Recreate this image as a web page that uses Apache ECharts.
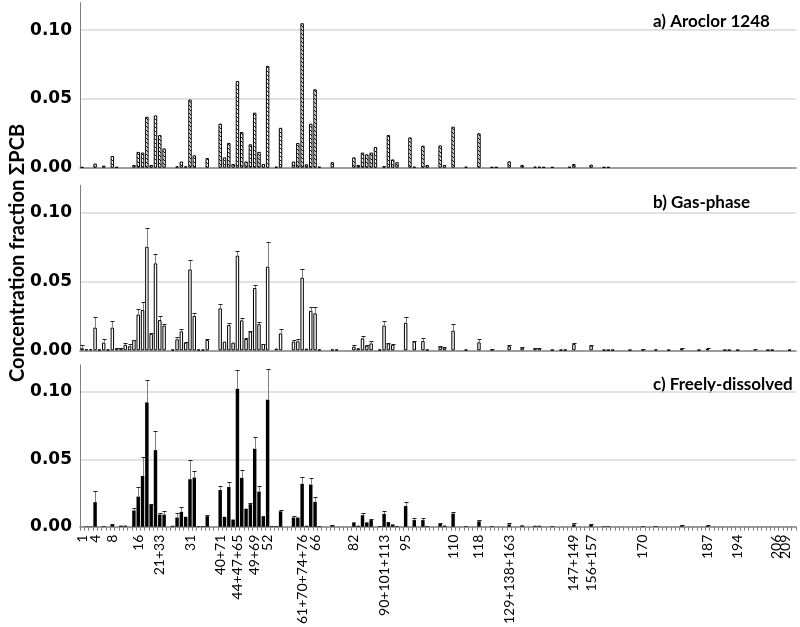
<!DOCTYPE html>
<html><head><meta charset="utf-8">
<script src="https://cdn.jsdelivr.net/npm/echarts@6/dist/echarts.min.js"></script>
<style>html,body{margin:0;padding:0;background:#fff}#chart{width:800px;height:627px}</style>
</head><body><div id="chart"></div>
<script>
// Congener peaks along the x axis (only the labelled ones carry text)
const categories = [
  '1','','','4','','','','8','','',
  '','','','16','','','','','21+33','',
  '','','','','','31','','','','',
  '','','40+71','','','','44+47+65','','','',
  '49+69','','','52','','','','','','',
  '','61+70+74+76','','','66','','','','','',
  '','','','82','','','','','','',
  '90+101+113','','','','','95','','','','',
  '','','','','','','110','','','',
  '','','118','','','','','','','129+138+163',
  '','','','','','','','','','',
  '','','','','147+149','','','','156+157','',
  '','','','','','','','','','',
  '170','','','','','','','','','',
  '','','','','','187','','','','',
  '','','194','','','','','','','',
  '','206','','209','',''
];

const panelTitles = ['a) Aroclor 1248', 'b) Gas-phase', 'c) Freely-dissolved'];
const yAxisTitle = 'Concentration fraction \u03A3PCB';

const aroclor = [
  0.0005,0,0,0.003,0,0.0015,0,0.0085,0.0005,0,
  0,0,0.002,0.0115,0.011,0.037,0.002,0.038,0.0237,0.014,
  0,0,0.001,0.0045,0.001,0.0495,0.009,0,0,0.007,
  0,0,0.032,0.0075,0.018,0.0027,0.063,0.026,0.0045,0.017,
  0.040,0.0115,0.0027,0.074,0,0.0007,0.029,0,0,0.0045,
  0.018,0.105,0.0025,0.032,0.057,0.0007,0,0,0.004,0,
  0,0,0,0.0075,0.002,0.011,0.0097,0.011,0.015,0,
  0.0012,0.0237,0.006,0.004,0,0,0.022,0.0007,0,0.016,
  0.002,0,0,0.0162,0.002,0,0.0298,0,0,0.0007,
  0,0,0.025,0,0,0.0005,0.0005,0,0,0.0046,
  0,0,0.002,0,0,0.0007,0.0007,0.0005,0,0.0005,
  0,0,0,0.0007,0.0027,0,0,0,0.0022,0,
  0,0.0005,0.0005,0,0,0,0,0,0,0,
  0,0,0,0,0,0,0,0,0,0,
  0,0,0,0,0,0,0,0,0,0,
  0,0,0,0,0,0,0,0,0,0,
  0,0,0,0,0,0
];

const gasPhase = [
  0.0015,0.0007,0.0007,0.0165,0.0005,0.0056,0.0005,0.0165,0.0015,0.0015,
  0.004,0.003,0.0075,0.026,0.0293,0.0753,0.012,0.0632,0.022,0.018,
  0,0.0005,0.008,0.0138,0.0056,0.0588,0.025,0.0005,0.0005,0.0075,
  0,0,0.0305,0.0063,0.0184,0.0056,0.0688,0.0218,0.0082,0.0136,
  0.0453,0.019,0.0046,0.0608,0,0.0012,0.0123,0,0,0.0063,
  0.0065,0.0528,0.0012,0.0288,0.0269,0.0005,0,0,0.0005,0.0005,
  0,0,0,0.0027,0.0015,0.0087,0.0034,0.005,0,0.0005,
  0.018,0.005,0.004,0,0,0.02,0,0.0063,0,0.0068,
  0.0005,0,0,0.0027,0.002,0,0.0143,0,0,0.0004,
  0,0,0.0058,0,0,0.0005,0,0,0,0.003,
  0,0,0.002,0,0,0.0015,0.0015,0,0,0.0004,
  0,0.0004,0.0004,0,0.0045,0,0,0,0.0034,0,
  0,0.0003,0.0003,0.0003,0,0,0,0.0003,0,0,
  0.0005,0,0,0.0005,0,0,0.0003,0,0,0.0012,
  0,0,0,0.0003,0,0.001,0,0,0,0.0003,
  0.0003,0,0.0003,0,0,0,0.0008,0,0,0.0003,
  0.0003,0,0,0,0.0003,0
];

const gasPhaseErr = [
  0.002,0,0,0.0075,0,0.0025,0,0.0045,0.0005,0.0003,
  0.001,0.0017,0.0002,0.004,0.0055,0.0133,0.0005,0.0068,0.003,0.001,
  0,0,0.0015,0.002,0.0005,0.0068,0.0024,0,0,0.0005,
  0,0,0.003,0,0.0012,0,0.0034,0.002,0.0005,0.0005,
  0.002,0.0017,0.0003,0.018,0,0,0.003,0,0,0.001,
  0.0015,0.0065,0,0.0025,0.0044,0,0,0,0,0,
  0,0,0,0.001,0,0.0017,0.0005,0.002,0,0,
  0.0036,0.0003,0.0005,0,0,0.0039,0,0.0005,0,0.002,
  0,0,0,0.0007,0.0003,0,0.0048,0,0,0,
  0,0,0.0027,0,0,0.0005,0,0,0,0.001,
  0,0,0.0003,0,0,0.0003,0.0003,0,0,0,
  0,0,0,0,0.0008,0,0,0,0.0003,0,
  0,0,0,0,0,0,0,0,0,0,
  0.0005,0,0,0,0,0,0,0,0,0.0005,
  0,0,0,0,0,0.0005,0,0,0,0,
  0,0,0,0,0,0,0.0004,0,0,0,
  0,0,0,0,0,0
];

const dissolved = [
  0,0.0003,0.0003,0.0182,0,0.0005,0,0.0017,0,0.0008,
  0.0008,0,0.012,0.0223,0.0376,0.0922,0.0163,0.0568,0.009,0.009,
  0,0.0007,0.0068,0.011,0.0073,0.0352,0.0364,0.0005,0.0005,0.0078,
  0,0,0.0272,0.0073,0.0294,0.0053,0.1024,0.0362,0.0133,0.0167,
  0.0578,0.026,0.0078,0.0942,0.0005,0.0005,0.0114,0,0,0.0068,
  0.0068,0.0318,0.0007,0.0313,0.0184,0.0005,0,0,0.001,0,
  0,0,0,0.0032,0.0007,0.0085,0.0032,0.0049,0,0.0005,
  0.0095,0.0034,0.0017,0.0005,0,0.0153,0,0.0049,0,0.0049,
  0.0005,0,0,0.002,0.0008,0,0.0097,0,0,0.0005,
  0,0,0.004,0,0,0.0005,0,0,0,0.0017,
  0,0,0.001,0,0,0.0007,0.0007,0,0,0.0005,
  0,0,0,0,0.0017,0,0,0,0.0015,0,
  0,0.0004,0.0004,0,0,0,0,0,0,0,
  0.0005,0,0,0.0005,0,0,0,0,0,0.0007,
  0,0,0,0,0,0.0007,0,0,0,0,
  0,0,0,0,0,0,0,0,0,0,
  0,0,0,0,0,0
];

const dissolvedErr = [
  0,0,0,0.0085,0,0,0,0.0005,0,0,
  0,0,0.0017,0.0075,0.014,0.0167,0.0007,0.0143,0.0015,0.0024,
  0,0,0.003,0.0036,0,0.014,0.005,0,0,0.0007,
  0,0,0.003,0,0.004,0,0.0138,0.0056,0,0.001,
  0.009,0.0044,0,0.0226,0,0,0.0007,0,0,0.001,
  0,0.005,0,0.005,0.0034,0,0,0,0.0005,0,
  0,0,0,0,0,0.002,0,0.0007,0,0,
  0.0018,0,0,0,0,0.003,0,0.0012,0,0.0012,
  0,0,0,0.0005,0,0,0.0012,0,0,0,
  0,0,0.0007,0,0,0,0,0,0,0.0007,
  0,0,0,0,0,0,0,0,0,0,
  0,0,0,0,0.0007,0,0,0,0.0005,0,
  0,0,0,0,0,0,0,0,0,0,
  0,0,0,0,0,0,0,0,0,0.0003,
  0,0,0,0,0,0.0003,0,0,0,0,
  0,0,0,0,0,0,0,0,0,0,
  0,0,0,0,0,0
];

// ---------- drawing ----------
const hatchCanvas = document.createElement('canvas');
hatchCanvas.width = 4; hatchCanvas.height = 4;
(function () {
  const c = hatchCanvas.getContext('2d');
  c.fillStyle = '#fff'; c.fillRect(0, 0, 4, 4);
  c.strokeStyle = '#000'; c.lineWidth = 0.9;
  c.beginPath();
  c.moveTo(0, 0); c.lineTo(4, 4);
  c.moveTo(-2, 2); c.lineTo(2, 6);
  c.moveTo(2, -2); c.lineTo(6, 2);
  c.stroke();
})();
const hatch = { image: hatchCanvas, repeat: 'repeat' };

const toBar = arr => arr.map(v => (v > 0 ? v : '-'));
const errData = (vals, errs) =>
  vals.map((v, i) => (errs[i] > 0 ? [i, v, v + errs[i]] : null)).filter(d => d);

function renderErr(params, api) {
  const i = api.value(0);
  const lo = api.coord([i, api.value(1)]);
  const hi = api.coord([i, api.value(2)]);
  const w = api.size([1, 0])[0] * 0.95;
  const x = Math.round(hi[0]) + 0.5;
  const yh = Math.round(hi[1]) + 0.5;
  return {
    type: 'group',
    children: [
      { type: 'line', shape: { x1: x, y1: lo[1], x2: x, y2: yh },
        style: { stroke: '#808080', lineWidth: 1 } },
      { type: 'line', shape: { x1: x - w / 2, y1: yh, x2: x + w / 2, y2: yh },
        style: { stroke: '#222', lineWidth: 1 } }
    ]
  };
}

const gridTops = [2.6, 185.2, 364.9];
const gridH = 165.1;
const axisGray = '#7f7f7f';

const option = {
  animation: false,
  backgroundColor: '#fff',
  grid: gridTops.map(t => ({ left: 80, right: 4, top: t, height: gridH })),
  xAxis: [0, 1, 2].map(i => ({
    type: 'category', gridIndex: i, data: categories, boundaryGap: true,
    axisLine: { show: true, lineStyle: { color: axisGray, width: 1.5 } },
    axisTick: i === 2
      ? { show: true, interval: 0, length: 4, lineStyle: { color: axisGray, width: 1 } }
      : { show: false },
    axisLabel: i === 2
      ? { show: true, interval: 0, rotate: 90, fontSize: 14, fontFamily: 'Lato',
          color: '#000', margin: 8 }
      : { show: false },
    splitLine: { show: false }
  })),
  yAxis: [0, 1, 2].map(i => ({
    type: 'value', gridIndex: i, min: 0, max: 0.12, interval: 0.05,
    axisLine: { show: true, lineStyle: { color: axisGray, width: 1 } },
    axisTick: { show: false },
    axisLabel: { showMaxLabel: false, formatter: v => v.toFixed(2),
      fontFamily: 'DejaVu Sans', fontWeight: 'bold', fontSize: 17, color: '#000', margin: 8 },
    splitLine: { show: true, showMinLine: false, showMaxLine: false,
      lineStyle: { color: '#d9d9d9', width: 1.5 } }
  })),
  series: [
    { type: 'bar', xAxisIndex: 0, yAxisIndex: 0, data: toBar(aroclor), barWidth: '80%',
      itemStyle: { color: hatch, borderColor: '#000', borderWidth: 1 } },
    { type: 'bar', xAxisIndex: 1, yAxisIndex: 1, data: toBar(gasPhase), barWidth: '80%',
      itemStyle: { color: '#fff', borderColor: '#000', borderWidth: 1 } },
    { type: 'custom', xAxisIndex: 1, yAxisIndex: 1, data: errData(gasPhase, gasPhaseErr),
      encode: { x: 0, y: [1, 2] }, renderItem: renderErr, z: 3 },
    { type: 'bar', xAxisIndex: 2, yAxisIndex: 2, data: toBar(dissolved), barWidth: '80%',
      itemStyle: { color: '#000' } },
    { type: 'custom', xAxisIndex: 2, yAxisIndex: 2, data: errData(dissolved, dissolvedErr),
      encode: { x: 0, y: [1, 2] }, renderItem: renderErr, z: 3 }
  ],
  graphic: [
    ...panelTitles.map((t, i) => ({
      type: 'text', x: 653, y: [22, 203, 385][i],
      style: { text: t, fill: '#000', font: 'bold 17px Lato',
        align: 'left', verticalAlign: 'middle', textAlign: 'left', textVerticalAlign: 'middle' }
    })),
    { type: 'text', x: 18, y: 253, rotation: Math.PI / 2,
      style: { text: yAxisTitle, fill: '#000', font: 'bold 20px Lato',
        align: 'center', verticalAlign: 'middle', textAlign: 'center', textVerticalAlign: 'middle' } }
  ]
};

const chart = echarts.init(document.getElementById('chart'), null, { renderer: 'canvas' });
chart.setOption(option);
</script>
</body></html>
